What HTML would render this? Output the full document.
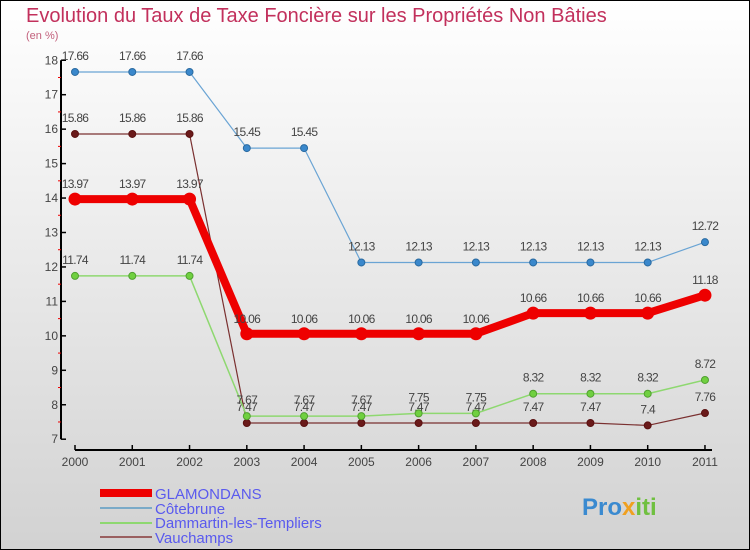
<!DOCTYPE html>
<html><head><meta charset="utf-8"><style>
body{margin:0}
#c{position:relative;width:750px;height:550px;box-sizing:border-box;border:1px solid #000;background:linear-gradient(#ffffff,#d2d2d2);font-family:"Liberation Sans",sans-serif;overflow:hidden}
</style></head><body>
<div id="c">
<svg id="s" width="750" height="550" style="position:absolute;left:-1px;top:-1px">
<text x="26" y="22" font-size="20" fill="#c2305c">Evolution du Taux de Taxe Foncière sur les Propriétés Non Bâties</text>
<text x="26" y="39" font-size="11" fill="#c2607c">(en %)</text>
<g id="axes"></g><g id="series"></g>
<g>
<rect x="100" y="489" width="52" height="8" fill="#e00"/>
<text x="155" y="499" font-size="15" fill="#5a5aee">GLAMONDANS</text>
<rect x="100" y="507" width="52" height="2" fill="#7aaac8"/>
<text x="155" y="514" font-size="15" fill="#5a5aee">Côtebrune</text>
<rect x="100" y="522" width="52" height="2" fill="#8ed870"/>
<text x="155" y="528" font-size="15" fill="#5a5aee">Dammartin-les-Templiers</text>
<rect x="100" y="536" width="52" height="2" fill="#9a6060"/>
<text x="155" y="543" font-size="15" fill="#5a5aee">Vauchamps</text>
</g>
<g><text x="582" y="515" font-size="24" font-weight="bold" fill="#3a8ad0">Pro<tspan fill="#f0a020">x</tspan><tspan fill="#70c040">iti</tspan></text></g>
</svg>
</div>
<script>
const years=[2000,2001,2002,2003,2004,2005,2006,2007,2008,2009,2010,2011];
const glamondans=[13.97,13.97,13.97,10.06,10.06,10.06,10.06,10.06,10.66,10.66,10.66,11.18];
const cotebrune=[17.66,17.66,17.66,15.45,15.45,12.13,12.13,12.13,12.13,12.13,12.13,12.72];
const dammartin=[11.74,11.74,11.74,7.67,7.67,7.67,7.75,7.75,8.32,8.32,8.32,8.72];
const vauchamps=[15.86,15.86,15.86,7.47,7.47,7.47,7.47,7.47,7.47,7.47,7.4,7.76];
const yTicks=[7,8,9,10,11,12,13,14,15,16,17,18];
const NS="http://www.w3.org/2000/svg";
const X=i=>75+i*57.27, Y=v=>439.2-(v-7)*34.45;
function mk(p,t,a){const e=document.createElementNS(NS,t);for(const k in a)e.setAttribute(k,a[k]);p.appendChild(e);return e;}
const ax=document.getElementById('axes'), se=document.getElementById('series');
let e=mk(ax,'line',{x1:61,y1:Y(18),x2:61,y2:Y(7),stroke:'#000','stroke-width':2});

e=mk(ax,'line',{x1:75,y1:450,x2:712,y2:450,stroke:'#000','stroke-width':2});

yTicks.forEach(v=>{
 let t=mk(ax,'line',{x1:61,y1:Y(v),x2:66,y2:Y(v),stroke:'#000','stroke-width':1.5});
 
 if(v<18){let m=mk(ax,'line',{x1:58,y1:Y(v+0.5),x2:61,y2:Y(v+0.5),stroke:'#e00','stroke-width':1});
 }
 let l=mk(ax,'text',{x:58,y:Y(v)+4,'font-size':12,fill:'#444','text-anchor':'end'});l.textContent=v;
 
});
years.forEach((yr,i)=>{
 let t=mk(ax,'line',{x1:X(i),y1:445,x2:X(i),y2:450,stroke:'#000','stroke-width':1.5});
 
 let l=mk(ax,'text',{x:X(i),y:466,'font-size':12,fill:'#444','text-anchor':'middle'});l.textContent=yr;
 
});
function series(vals,name,col,w,dot,dotStroke,r,off){
 const g=mk(se,'g',{});
 const p=mk(g,'polyline',{points:vals.map((v,i)=>X(i)+','+Y(v)).join(' '),fill:'none',stroke:col,'stroke-width':w,'stroke-linejoin':'round'});
 
 vals.forEach((v,i)=>{
  const c=mk(g,'circle',{cx:X(i),cy:Y(v),r:r,fill:dot,stroke:dotStroke,'stroke-width':1});
  
  const t=mk(g,'text',{x:X(i),y:Y(v)-off,'font-size':12,fill:'#444','text-anchor':'middle','letter-spacing':'-0.7'});t.textContent=v;
  
 });
}
series(vauchamps,'vauchamps','#7a3030',1.2,'#6a1a1a','#5a1010',3.5,12);
series(dammartin,'dammartin','#8ed870',1.5,'#70d040','#50a030',3.5,12);
series(cotebrune,'cotebrune','#6aa4d4',1.2,'#3a88cc','#2a6aa0',3.5,12);
series(glamondans,'glamondans','#ee0000',8,'#ee0000','#ee0000',6,11);
</script>
</body></html>
